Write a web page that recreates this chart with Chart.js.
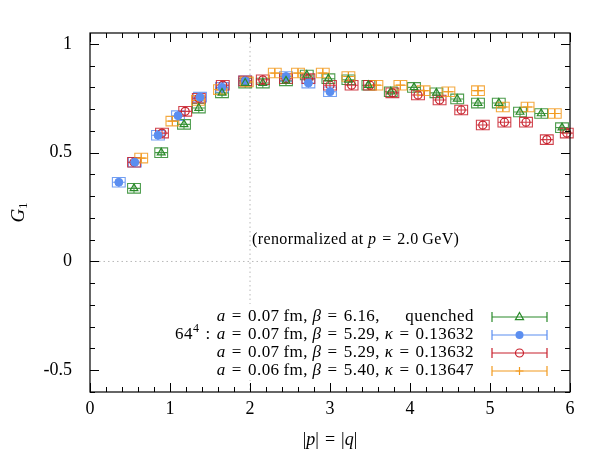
<!DOCTYPE html>
<html><head><meta charset="utf-8">
<script src="https://cdn.jsdelivr.net/npm/chart.js@4.4.0/dist/chart.umd.min.js"></script>
<style>html,body{margin:0;padding:0;background:#fff}#wrap{width:603px;height:455px;position:relative}</style>
</head><body><div id="wrap"><canvas id="c" width="603" height="455"></canvas></div>
<script>
// ---- data ----
const xTickValues = [0, 1, 2, 3, 4, 5, 6];
const xTickLabels = ['0', '1', '2', '3', '4', '5', '6'];
const yTickValues = [-0.5, 0, 0.5, 1];
const yTickLabels = ['-0.5', '0', '0.5', '1'];

const quenchedX = [0.55, 0.89, 1.175, 1.36, 1.65, 1.94, 2.16, 2.45, 2.71, 2.98, 3.23, 3.48, 3.76, 4.05, 4.33, 4.59, 4.85, 5.11, 5.375, 5.64, 5.9];
const quenchedY = [0.336, 0.50, 0.63, 0.705, 0.775, 0.82, 0.82, 0.83, 0.857, 0.84, 0.835, 0.81, 0.78, 0.80, 0.775, 0.747, 0.728, 0.728, 0.687, 0.68, 0.615];

const l64X = [0.36, 0.56, 0.85, 1.10, 1.375, 1.65, 1.94, 2.45, 2.73, 3.0];
const l64Y = [0.364, 0.456, 0.58, 0.67, 0.755, 0.80, 0.83, 0.85, 0.82, 0.78];

const b529X = [0.55, 0.90, 1.19, 1.36, 1.66, 1.94, 2.16, 2.45, 2.73, 3.0, 3.27, 3.5, 3.78, 4.1, 4.37, 4.64, 4.91, 5.18, 5.45, 5.71, 5.96];
const b529Y = [0.456, 0.59, 0.69, 0.75, 0.81, 0.83, 0.835, 0.84, 0.84, 0.81, 0.81, 0.81, 0.775, 0.765, 0.742, 0.696, 0.627, 0.64, 0.64, 0.56, 0.59];

const b540X = [0.64, 1.03, 1.35, 1.625, 1.96, 2.31, 2.6, 2.91, 3.23, 3.58, 3.88, 4.17, 4.48, 4.85, 5.16, 5.47, 5.81];
const b540Y = [0.475, 0.645, 0.74, 0.79, 0.825, 0.866, 0.866, 0.866, 0.85, 0.81, 0.81, 0.785, 0.78, 0.785, 0.71, 0.71, 0.68];

const xErr = 0.08;
const yErr = 0.022;

// legend texts: [text, style]  style: r roman, i italic, sup superscript
const EQ = '\u2004=\u2004';
const legendRows = [
  [['a','i'],[EQ+'0.07\u2009fm, ','r'],['β','i'],[EQ+'6.16,','r']],
  [['64','r'],['4','sup'],['\u2004:\u2004','r'],['a','i'],[EQ+'0.07\u2009fm, ','r'],['β','i'],[EQ+'5.29, ','r'],['κ','i'],[EQ+'0.13632','r']],
  [['a','i'],[EQ+'0.07\u2009fm, ','r'],['β','i'],[EQ+'5.29, ','r'],['κ','i'],[EQ+'0.13632','r']],
  [['a','i'],[EQ+'0.06\u2009fm, ','r'],['β','i'],[EQ+'5.40, ','r'],['κ','i'],[EQ+'0.13647','r']]
];
const legendExtra = 'quenched';
const noteText = [['(renormalized at ','r'],['p','i'],[EQ+'2.0\u2009GeV)','r']];
const xTitle = [['|','r'],['p','i'],['|'+EQ+'|','r'],['q','i'],['|','r']];
const yTitle = [['G','i'],['1','sub']];

const colors = ['#2a8a2a', '#5b8ef0', '#c8202c', '#f29a1f'];
const FONT = '"Liberation Serif", "DejaVu Serif", serif';

function pts(xs, ys){ return xs.map((x,i)=>({x:x, y:ys[i]})); }

function segFont(st, size){
  if (st==='i') return 'italic ' + size + 'px ' + FONT;
  if (st==='sup' || st==='sub') return Math.round(size*0.7) + 'px ' + FONT;
  return size + 'px ' + FONT;
}
function richWidth(ctx, segs, size){
  let w=0;
  for (const [t,st] of segs){ ctx.font=segFont(st,size); w+=ctx.measureText(t).width; }
  return w;
}
function drawRich(ctx, segs, x, y, size, align){
  const w = richWidth(ctx, segs, size);
  let cx = align==='right' ? x-w : (align==='center' ? x-w/2 : x);
  ctx.textBaseline='middle'; ctx.textAlign='left';
  for (const [t,st] of segs){
    ctx.font=segFont(st,size);
    let dy = 0;
    if (st==='sup') dy = -size*0.35;
    if (st==='sub') dy = size*0.25;
    ctx.fillText(t, cx, y+dy);
    cx += ctx.measureText(t).width;
  }
  return w;
}

function drawMarker(ctx, style, x, y, color){
  ctx.save();
  ctx.strokeStyle=color; ctx.fillStyle=color; ctx.lineWidth=1.2;
  ctx.beginPath();
  if (style==='triangle'){
    const r=4.5;
    ctx.moveTo(x, y-r); ctx.lineTo(x+r*0.9, y+r*0.6); ctx.lineTo(x-r*0.9, y+r*0.6); ctx.closePath(); ctx.stroke();
  } else if (style==='filled'){
    ctx.arc(x,y,4,0,Math.PI*2); ctx.fill();
  } else if (style==='open'){
    ctx.arc(x,y,4,0,Math.PI*2); ctx.stroke();
  } else {
    ctx.moveTo(x-4,y); ctx.lineTo(x+4,y); ctx.moveTo(x,y-4); ctx.lineTo(x,y+4); ctx.stroke();
  }
  ctx.restore();
}
const markerStyles = ['triangle','filled','open','plus'];

const framePlugin = {
  id: 'frame',
  beforeDatasetsDraw(chart){
    const {ctx, chartArea:a, scales:{x, y}} = chart;
    ctx.save();
    ctx.strokeStyle='#b8b8b8'; ctx.lineWidth=1; ctx.setLineDash([1.5,3]);
    ctx.beginPath();
    const x2 = x.getPixelForValue(2), y0 = y.getPixelForValue(0);
    ctx.moveTo(x2, a.top); ctx.lineTo(x2, a.bottom);
    ctx.moveTo(a.left, y0); ctx.lineTo(a.right, y0);
    ctx.stroke();
    ctx.setLineDash([]);
    chart.data.datasets.forEach((ds, i)=>{
      ctx.strokeStyle = colors[i]; ctx.globalAlpha = 0.85; ctx.lineWidth = 1.1;
      for (const p of ds.data){
        const l = x.getPixelForValue(p.x - xErr), r = x.getPixelForValue(p.x + xErr);
        const t = y.getPixelForValue(p.y + yErr), b = y.getPixelForValue(p.y - yErr);
        const cx = x.getPixelForValue(p.x), cy = y.getPixelForValue(p.y);
        ctx.beginPath();
        ctx.rect(l, t, r-l, b-t);
        ctx.moveTo(l, cy); ctx.lineTo(r, cy);
        ctx.moveTo(cx, t); ctx.lineTo(cx, b);
        ctx.stroke();
      }
    });
    ctx.restore();
  },
  afterDatasetsDraw(chart){
    const {ctx, chartArea:a, scales:{x, y}} = chart;
    ctx.save();
    ctx.fillStyle='#fff';
    ctx.fillRect(165, 304, 395, 76);
    ctx.fillStyle='#000';
    const size=17;
    ctx.letterSpacing='0.45px';
    const textRight = 474;
    const w3 = richWidth(ctx, legendRows[2], size);
    const textLeft = textRight - w3;
    const rowsY=[317,335,353,371];
    legendRows.forEach((segs,i)=>{
      ctx.fillStyle='#000';
      if (i===1) drawRich(ctx, segs, textRight, rowsY[i], size, 'right');
      else drawRich(ctx, segs, textLeft, rowsY[i], size, 'left');
      if (i===0){ ctx.font=size+'px '+FONT; ctx.textAlign='right'; ctx.fillText(legendExtra, textRight, rowsY[i]); }
      const yy=rowsY[i];
      ctx.strokeStyle=colors[i]; ctx.lineWidth=1.2;
      ctx.beginPath();
      ctx.moveTo(492,yy); ctx.lineTo(547,yy);
      ctx.moveTo(492,yy-5); ctx.lineTo(492,yy+5);
      ctx.moveTo(547,yy-5); ctx.lineTo(547,yy+5);
      ctx.stroke();
      drawMarker(ctx, markerStyles[i], 519.5, yy, colors[i]);
    });
    ctx.fillStyle='#000';
    ctx.letterSpacing='0.4px';
    drawRich(ctx, noteText, 252, 240, 16, 'left');
    ctx.letterSpacing='0px';
    ctx.strokeStyle='#000'; ctx.lineWidth=1.2;
    ctx.strokeRect(a.left, a.top, a.right-a.left, a.bottom-a.top);
    ctx.lineWidth=1;
    ctx.beginPath();
    for (let k=0;k<=30;k++){
      const v=k*0.2; const px=Math.round(x.getPixelForValue(v))+0.5;
      const len = (k%5===0)?9:5;
      ctx.moveTo(px,a.bottom); ctx.lineTo(px,a.bottom-len);
      ctx.moveTo(px,a.top); ctx.lineTo(px,a.top+len);
    }
    for (let k=-6;k<=10;k++){
      const v=k*0.1; const py=Math.round(y.getPixelForValue(v))+0.5;
      const len = (k%5===0)?9:5;
      ctx.moveTo(a.left,py); ctx.lineTo(a.left+len,py);
      ctx.moveTo(a.right,py); ctx.lineTo(a.right-len,py);
    }
    ctx.stroke();
    drawRich(ctx, xTitle, (a.left+a.right)/2, 440, 18, 'center');
    ctx.translate(19, (a.top+a.bottom)/2);
    ctx.rotate(-Math.PI/2);
    drawRich(ctx, yTitle, 0, 0, 19, 'center');
    ctx.restore();
  }
};

new Chart(document.getElementById('c'), {
  type: 'scatter',
  data: {
    datasets: [
      {label: 'quenched', data: pts(quenchedX, quenchedY), pointStyle: 'triangle', pointRadius: 4.5, borderColor: colors[0], backgroundColor: 'rgba(0,0,0,0)', borderWidth: 1.2, clip: 8},
      {label: '64^4 kappa 0.13632', data: pts(l64X, l64Y), pointStyle: 'circle', pointRadius: 4, borderColor: colors[1], backgroundColor: colors[1], borderWidth: 1, clip: 8},
      {label: 'kappa 0.13632', data: pts(b529X, b529Y), pointStyle: 'circle', pointRadius: 4, borderColor: colors[2], backgroundColor: 'rgba(0,0,0,0)', borderWidth: 1.2, clip: 8},
      {label: 'kappa 0.13647', data: pts(b540X, b540Y), pointStyle: 'cross', pointRadius: 4.5, borderColor: colors[3], backgroundColor: colors[3], borderWidth: 1.2, clip: 8}
    ]
  },
  options: {
    responsive: false,
    animation: false,
    devicePixelRatio: 1,
    layout: {padding: {top: 33, right: 33, left: 0, bottom: 0}},
    plugins: {legend: {display: false}, tooltip: {enabled: false}},
    scales: {
      x: {
        type: 'linear', min: 0, max: 6,
        afterBuildTicks: s => { s.ticks = xTickValues.map(v => ({value: v})); },
        afterFit: s => { s.height = 63; },
        ticks: {callback: (v) => xTickLabels[xTickValues.indexOf(v)], font: {family: FONT, size: 18}, color: '#000', padding: 6, maxRotation: 0},
        grid: {display: false, drawTicks: false},
        border: {display: false}
      },
      y: {
        type: 'linear', min: -0.6, max: 1.05,
        afterBuildTicks: s => { s.ticks = yTickValues.map(v => ({value: v})); },
        afterFit: s => { s.width = 90; },
        ticks: {callback: (v) => yTickLabels[yTickValues.indexOf(v)], font: {family: FONT, size: 18}, color: '#000', padding: 18},
        grid: {display: false, drawTicks: false},
        border: {display: false}
      }
    }
  },
  plugins: [framePlugin]
});
</script>
</body></html>
